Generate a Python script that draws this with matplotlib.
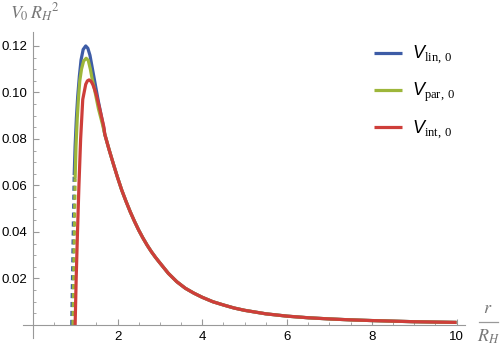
import matplotlib
matplotlib.use("Agg")
import matplotlib.pyplot as plt
from matplotlib.lines import Line2D

plt.rcParams['font.family'] = ['Liberation Sans', 'DejaVu Sans']
plt.rcParams['mathtext.fontset'] = 'custom'
plt.rcParams['mathtext.rm'] = 'Liberation Serif'
plt.rcParams['mathtext.it'] = 'Liberation Sans:italic'

# Data (r / R_H, V_0 R_H^2)
tail_r = [1.7, 1.8, 1.9, 2.0, 2.1, 2.2, 2.3, 2.4, 2.5, 2.6, 2.7, 2.8, 2.9, 3.0, 3.2, 3.4,
          3.6, 3.8, 4.0, 4.25, 4.5, 4.75, 5.0, 5.5, 6.0, 6.5, 7.0, 7.5, 8.0, 9.0, 10.0]
tail_v = [0.082, 0.0755, 0.0694, 0.0635, 0.058, 0.0532, 0.0487, 0.0446, 0.0408, 0.0374,
          0.0343, 0.0315, 0.029, 0.0267, 0.0222, 0.0186, 0.0158, 0.0137, 0.0119, 0.0100,
          0.0086, 0.0073, 0.0063, 0.0048, 0.0038, 0.0031, 0.0026, 0.0022, 0.0019, 0.0014, 0.0011]

lin_r = [0.978, 1.0, 1.03, 1.06, 1.1, 1.14, 1.19, 1.25, 1.3, 1.35, 1.4, 1.45, 1.5, 1.55, 1.6, 1.65]
lin_v = [0.0645, 0.077, 0.089, 0.098, 0.107, 0.114, 0.1185, 0.1200, 0.1190, 0.116,
         0.111, 0.106, 0.101, 0.096, 0.0915, 0.087]

par_r = [1.0, 1.02, 1.05, 1.08, 1.11, 1.15, 1.2, 1.26, 1.31, 1.36, 1.4, 1.45, 1.5, 1.55, 1.6, 1.65]
par_v = [0.063, 0.0767, 0.089, 0.098, 0.105, 0.110, 0.1135, 0.1147, 0.1138, 0.110,
         0.106, 0.102, 0.0975, 0.093, 0.0895, 0.086]

int_r = [1.0, 1.025, 1.056, 1.09, 1.13, 1.18, 1.25, 1.29, 1.33, 1.38, 1.42, 1.46, 1.5,
         1.54, 1.58, 1.63, 1.68]
int_v = [0.0, 0.02, 0.04, 0.06, 0.08, 0.097, 0.1035, 0.1050, 0.1054, 0.1047, 0.1033,
         0.1013, 0.099, 0.096, 0.093, 0.089, 0.085]

# dashed vertical pieces near the horizon
lin_dash_r = [0.92, 0.978]
lin_dash_v = [0.0, 0.0645]
par_dash_r = [0.95, 1.0]
par_dash_v = [0.0, 0.063]

labels = [r'$V_{\mathrm{lin,\,0}}$', r'$V_{\mathrm{par,\,0}}$', r'$V_{\mathrm{int,\,0}}$']
colors = ['#3D5CA6', '#9DB63A', '#CE3E3A']

W, H = 503, 351
fig = plt.figure(figsize=(W / 100, H / 100), dpi=100)
ax = fig.add_axes([23 / W, (H - 338) / H, 442 / W, 306 / H])

lw = 2.3
ax.plot(lin_dash_r, lin_dash_v, color=colors[0], lw=lw, ls=(0, (1.6, 1.2)))
ax.plot(par_dash_r, par_dash_v, color=colors[1], lw=lw, ls=(0, (1.6, 1.2)))
ax.plot(lin_r + tail_r, lin_v + tail_v, color=colors[0], lw=lw, label=labels[0], solid_capstyle='butt')
ax.plot(par_r + tail_r, par_v + tail_v, color=colors[1], lw=lw, label=labels[1], solid_capstyle='butt')
ax.plot(int_r + tail_r, int_v + tail_v, color=colors[2], lw=lw, label=labels[2], solid_capstyle='butt')

ax.set_xlim(-0.23, 10.2)
ax.set_ylim(-0.0056, 0.126)

for side in ['top', 'right']:
    ax.spines[side].set_visible(False)
for side in ['left', 'bottom']:
    ax.spines[side].set_position(('data', 0))
    ax.spines[side].set_color('#999999')
    ax.spines[side].set_linewidth(0.8)

ax.set_xticks([2, 4, 6, 8, 10])
ax.set_xticks([x * 0.5 for x in range(1, 21)], minor=True)
ax.set_yticks([0.02, 0.04, 0.06, 0.08, 0.10, 0.12])
ax.set_yticklabels(['0.02', '0.04', '0.06', '0.08', '0.10', '0.12'])
ax.set_yticks([y * 0.005 for y in range(1, 25)], minor=True)
ax.tick_params(which='both', direction='in', color='#999999', labelsize=9.5, labelcolor='black')
ax.tick_params(which='major', length=4, width=0.8, pad=4)
ax.tick_params(which='minor', length=2.5, width=0.6)

ax.patch.set_alpha(0)

gray = '#777777'
fig.text(10 / W, 1 - 19 / H, r'$V_0\,R_H{}^2$', fontsize=13, color=gray,
         math_fontfamily='stix', va='baseline', ha='left')
# x label as a stacked fraction r / R_H
fig.text(488 / W, 1 - 313 / H, r'$r$', fontsize=13, color=gray,
         math_fontfamily='stix', va='baseline', ha='center')
fig.add_artist(Line2D([479 / W, 498 / W], [1 - 322 / H, 1 - 322 / H], color='#999999', lw=0.9))
fig.text(488 / W, 1 - 342 / H, r'$R_H$', fontsize=13, color=gray,
         math_fontfamily='stix', va='baseline', ha='center')

leg = ax.legend(loc='upper left', bbox_to_anchor=(374 / W, 1 - 44 / H),
                bbox_transform=fig.transFigure, frameon=False, fontsize=13,
                handlelength=1.55, handletextpad=0.55, labelspacing=0.8, borderpad=0,
                borderaxespad=0)

fig.savefig('out.png', dpi=100)
